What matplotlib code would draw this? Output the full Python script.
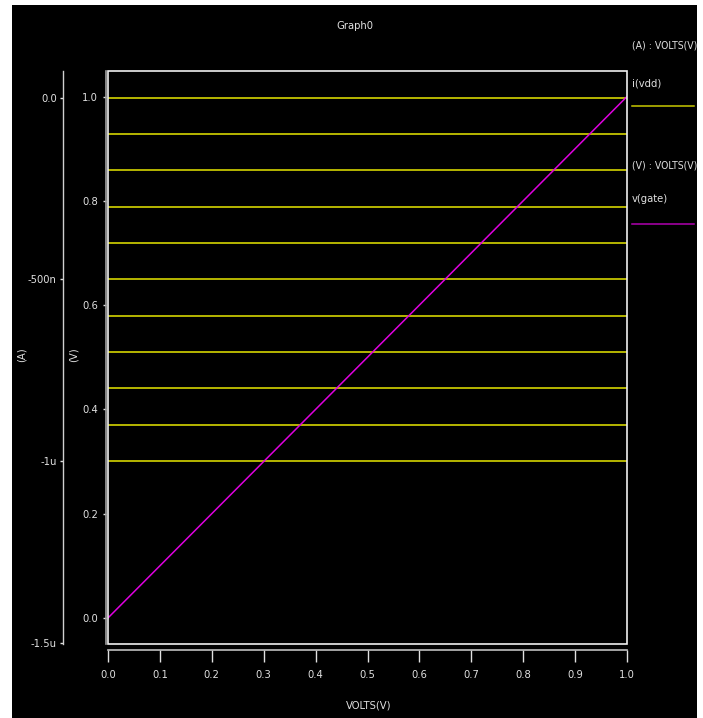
import matplotlib
matplotlib.use("Agg")
import matplotlib.pyplot as plt
from matplotlib.patches import Rectangle
from matplotlib.lines import Line2D
from matplotlib import font_manager as fm

# ---- data ----
volts = [0.0, 0.1, 0.2, 0.3, 0.4, 0.5, 0.6, 0.7, 0.8, 0.9, 1.0]
v_gate = [0.0, 0.1, 0.2, 0.3, 0.4, 0.5, 0.6, 0.7, 0.8, 0.9, 1.0]
i_vdd_levels = [0.0, -100e-9, -200e-9, -300e-9, -400e-9, -500e-9,
                -600e-9, -700e-9, -800e-9, -900e-9, -1000e-9]
x_ticks = [0.0, 0.1, 0.2, 0.3, 0.4, 0.5, 0.6, 0.7, 0.8, 0.9, 1.0]
x_ticklabels = ["0.0", "0.1", "0.2", "0.3", "0.4", "0.5", "0.6", "0.7", "0.8", "0.9", "1.0"]
v_ticks = [0.0, 0.2, 0.4, 0.6, 0.8, 1.0]
v_ticklabels = ["0.0", "0.2", "0.4", "0.6", "0.8", "1.0"]
a_ticks = [0.0, -500e-9, -1e-6, -1.5e-6]
a_ticklabels = ["0.0", "-500n", "-1u", "-1.5u"]

names = {f.name for f in fm.fontManager.ttflist}
condensed = [f for f in fm.fontManager.ttflist
             if f.name == "DejaVu Sans" and "ondensed" in str(f.stretch) + f.fname]
if "Liberation Sans Narrow" in names:
    FONT = ["Liberation Sans Narrow", "DejaVu Sans"]
    STRETCH = "normal"
else:
    FONT = ["DejaVu Sans"]
    STRETCH = "condensed" if condensed else "normal"
plt.rcParams["font.family"] = FONT
plt.rcParams["font.stretch"] = STRETCH
TXT = "#e0e0e0"
YEL = "#e6e600"
YEL_LEG = "#c8c800"
MAG = "#e000e0"
MAG_LEG = "#b000b0"
FS = 8

W, H = 703, 718
fig = plt.figure(figsize=(W / 100, H / 100), dpi=100, facecolor="white")
fig.patches.append(Rectangle((12 / W, 0), (697 - 12) / W, 1 - 5 / H,
                             transform=fig.transFigure, facecolor="black",
                             edgecolor="none", zorder=-10))

def fx(px):
    return px / W

def fy(py):
    return 1 - py / H

left, right, top, bottom = 108, 627, 71, 644
ax = fig.add_axes([fx(left), fy(bottom), fx(right) - fx(left), (bottom - top) / H])
ax.set_facecolor("black")
ax.set_xlim(0, 1)
ax.set_ylim(-0.05, 1.049)

ax2 = ax.twinx()
ax2.set_ylim(-1.50275e-6, 0.0729e-6)

for lvl in i_vdd_levels:
    ax2.plot(volts, [lvl] * len(volts), color=YEL, lw=1.1, zorder=3)
ax.plot(volts, v_gate, color=MAG, lw=1.1, zorder=4)
ax.set_zorder(ax2.get_zorder() + 1)
ax.patch.set_visible(False)
ax2.patch.set_visible(True)
ax2.patch.set_facecolor("black")

ax.add_patch(Rectangle((0, 0), 1, 1, transform=ax.transAxes, fill=False,
                       edgecolor="#f0f0f0", lw=1.2, clip_on=False, zorder=5))

for s in ["top", "right"]:
    ax.spines[s].set_visible(False)
    ax2.spines[s].set_visible(False)
ax2.spines["bottom"].set_visible(False)

ax.spines["left"].set_position(("outward", 1.6))
ax.spines["left"].set_color("#a0a0a0")
ax.spines["left"].set_linewidth(1.2)
ax.set_yticks(v_ticks)
ax.set_yticklabels(v_ticklabels)
ax.tick_params(axis="y", direction="out", length=2.5, width=1, color=TXT,
               labelcolor=TXT, labelsize=FS, pad=3)

ax.spines["bottom"].set_position(("outward", 4.3))
ax.spines["bottom"].set_color("#c0c0c0")
ax.spines["bottom"].set_linewidth(1.2)
ax.set_xticks(x_ticks)
ax.set_xticklabels(x_ticklabels)
ax.tick_params(axis="x", direction="out", length=8.5, width=1, color=TXT,
               labelcolor=TXT, labelsize=FS, pad=6)

ax2.spines["left"].set_visible(True)
ax2.spines["left"].set_position(("outward", 32.4))
ax2.spines["left"].set_color("#d0d0d0")
ax2.spines["left"].set_linewidth(1.0)
ax2.yaxis.set_ticks_position("left")
ax2.yaxis.set_label_position("left")
ax2.set_yticks(a_ticks)
ax2.set_yticklabels(a_ticklabels)
ax2.tick_params(axis="y", direction="out", length=2.5, width=1, color=TXT,
                labelcolor=TXT, labelsize=FS, pad=2)

fig.text(fx(355), fy(26), "Graph0", color=TXT, fontsize=FS, ha="center", va="center")
fig.text(fx(369), fy(706), "VOLTS(V)", color=TXT, fontsize=FS, ha="center", va="center")
fig.text(fx(22), fy(355), "(A)", color=TXT, fontsize=FS, ha="center", va="center", rotation=90)
fig.text(fx(74), fy(355), "(V)", color=TXT, fontsize=FS, ha="center", va="center", rotation=90)

fig.text(fx(632), fy(46), "(A) : VOLTS(V)", color=TXT, fontsize=FS - 0.5, ha="left", va="center")
fig.text(fx(632), fy(84), "i(vdd)", color=TXT, fontsize=FS, ha="left", va="center")
fig.add_artist(Line2D([fx(632), fx(694)], [fy(106), fy(106)], color=YEL_LEG, lw=1.1))
fig.text(fx(632), fy(166), "(V) : VOLTS(V)", color=TXT, fontsize=FS - 0.5, ha="left", va="center")
fig.text(fx(632), fy(199), "v(gate)", color=TXT, fontsize=FS, ha="left", va="center")
fig.add_artist(Line2D([fx(632), fx(694)], [fy(224), fy(224)], color=MAG_LEG, lw=1.1))

fig.savefig("out.png", dpi=100, facecolor="white")
